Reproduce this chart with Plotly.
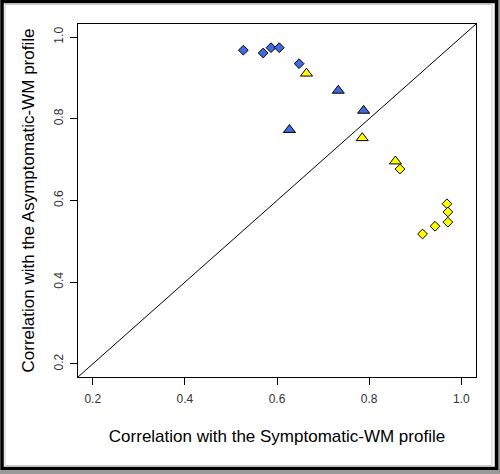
import plotly.graph_objects as go

# Data
blue_diamond_x = [0.527, 0.570, 0.587, 0.605, 0.648]
blue_diamond_y = [0.968, 0.961, 0.974, 0.974, 0.935]
blue_triangle_x = [0.733, 0.788, 0.627]
blue_triangle_y = [0.869, 0.820, 0.773]
yellow_triangle_x = [0.664, 0.785, 0.857]
yellow_triangle_y = [0.911, 0.753, 0.696]
yellow_diamond_x = [0.867, 0.969, 0.971, 0.971, 0.943, 0.916]
yellow_diamond_y = [0.677, 0.592, 0.572, 0.547, 0.537, 0.518]

tick_vals = [0.2, 0.4, 0.6, 0.8, 1.0]
tick_text = ["0.2", "0.4", "0.6", "0.8", "1.0"]
axis_range = [0.168, 1.032]

BLUE = "#4169E1"
YELLOW = "#FFFF00"

W, H = 500, 474
L, R, T, B = 78, 24, 24, 97
pw, ph = W - L - R, H - T - B


def px_x(p):
    return (p - L) / pw


def px_y(p):
    return (H - B - p) / ph


fig = go.Figure()

def add(xs, ys, symbol, color, size):
    fig.add_trace(go.Scatter(
        x=xs, y=ys, mode="markers",
        marker=dict(symbol=symbol, color=color, size=size,
                    line=dict(color="black", width=1)),
        showlegend=False, hoverinfo="skip"))

add(blue_diamond_x, blue_diamond_y, "diamond", BLUE, 7.5)
add(blue_triangle_x, blue_triangle_y, "triangle-up", BLUE, 10.5)
add(yellow_triangle_x, yellow_triangle_y, "triangle-up", YELLOW, 10.5)
add(yellow_diamond_x, yellow_diamond_y, "diamond", YELLOW, 7.5)

shapes = [
    # diagonal y = x
    dict(type="line", xref="x", yref="y", x0=axis_range[0], y0=axis_range[0],
         x1=axis_range[1], y1=axis_range[1], line=dict(color="black", width=1)),
    # gray outer strip
    dict(type="rect", xref="paper", yref="paper", x0=px_x(0), x1=px_x(500),
         y0=px_y(474), y1=px_y(0), fillcolor="#9a9a9a", line=dict(width=0),
         layer="below"),
    dict(type="rect", xref="paper", yref="paper", x0=px_x(0), x1=px_x(497.5),
         y0=px_y(470.5), y1=px_y(0), fillcolor="white", line=dict(width=0),
         layer="below"),
    # thin inner line
    dict(type="rect", xref="paper", yref="paper", x0=px_x(5), x1=px_x(492),
         y0=px_y(465.5), y1=px_y(4.5), line=dict(color="#c8c8c8", width=1)),
    # thick black frame
    dict(type="rect", xref="paper", yref="paper", x0=px_x(2), x1=px_x(496.5),
         y0=px_y(468.5), y1=px_y(1.5), line=dict(color="black", width=3.5)),
]

axis_common = dict(
    range=axis_range, tickvals=tick_vals, ticktext=tick_text,
    ticks="outside", ticklen=7, tickwidth=1, tickcolor="black",
    showline=True, linecolor="black", linewidth=1, mirror=True,
    showgrid=False, zeroline=False, automargin=False,
    tickfont=dict(family="Liberation Sans, Arial", size=12, color="#333333"),
)

TITLE_FONT = dict(family="Liberation Sans, Arial", size=17, color="black")

fig.update_layout(
    width=W, height=H,
    margin=dict(l=L, r=R, t=T, b=B, autoexpand=False),
    paper_bgcolor="white", plot_bgcolor="white",
    shapes=shapes,
    xaxis=dict(**axis_common, ticklabelstandoff=4,
               title=dict(text="Correlation with the Symptomatic-WM profile",
                          font=TITLE_FONT, standoff=24)),
    yaxis=dict(**axis_common, tickangle=-90, ticklabelstandoff=2,
               title=dict(text="Correlation with the Asymptomatic-WM profile",
                          font=TITLE_FONT, standoff=13)),
)

fig.write_html("out.html", config={"displayModeBar": False},
               post_script="document.body.style.margin='0';document.body.style.padding='0';")
